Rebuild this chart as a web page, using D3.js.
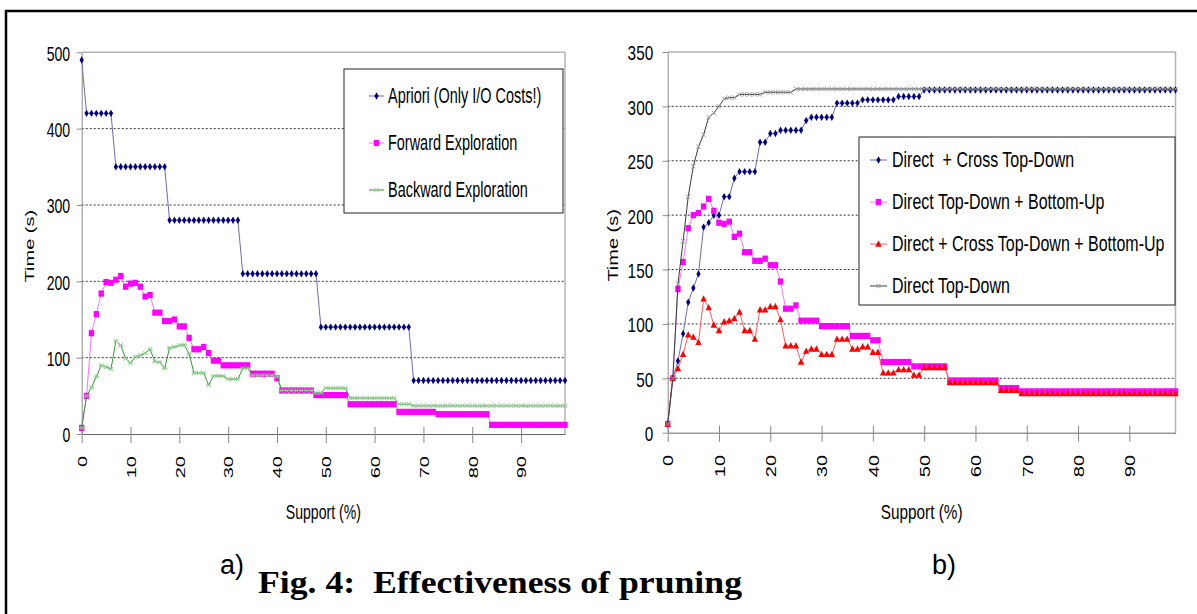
<!DOCTYPE html>
<html>
<head>
<meta charset="utf-8">
<script src="https://cdnjs.cloudflare.com/ajax/libs/d3/7.8.5/d3.min.js"></script>
<style>
  html, body { margin: 0; padding: 0; background: #fff; }
  svg { display: block; }
  svg text { font-family: Arial, "Liberation Sans", sans-serif; }
  svg text.caption { font-family: "Times New Roman", "Liberation Serif", "DejaVu Serif Condensed", serif; }
</style>
</head>
<body>
<svg id="fig" width="1197" height="614"></svg>
<script>
// support (%) categories and tick labels
var support = d3.range(0, 100);
var supportTicks = [0, 10, 20, 30, 40, 50, 60, 70, 80, 90];
var timeTicksA = [0, 100, 200, 300, 400, 500];
var timeTicksB = [0, 50, 100, 150, 200, 250, 300, 350];

// a) series
var apriori = [
  490,420,420,420,420,420,420,350,350,350,
  350,350,350,350,350,350,350,350,280,280,
  280,280,280,280,280,280,280,280,280,280,
  280,280,280,210,210,210,210,210,210,210,
  210,210,210,210,210,210,210,210,210,140,
  140,140,140,140,140,140,140,140,140,140,
  140,140,140,140,140,140,140,140,70,70,
  70,70,70,70,70,70,70,70,70,70,
  70,70,70,70,70,70,70,70,70,70,
  70,70,70,70,70,70,70,70,70,70
];
var forward = [
  8,50,132,157,184,199,198,202,207,193,
  197,198,193,180,182,159,159,148,148,150,
  141,141,126,111,111,114,106,96,96,90,
  90,90,90,90,90,79,79,79,79,79,
  73,57,57,57,57,57,57,57,51,51,
  51,51,51,51,51,39,39,39,39,39,
  39,39,39,39,39,29,29,29,29,29,
  29,29,29,26,26,26,26,26,26,26,
  26,26,26,26,12,12,12,12,12,12,
  12,12,12,12,12,12,12,12,12,12
];
var backward = [
  8,50,61,75,90,88,85,122,116,99,
  93,101,103,106,111,95,94,86,113,114,
  116,117,105,80,80,80,64,76,76,76,
  72,72,72,86,86,77,77,77,77,77,
  75,57,57,57,57,57,57,57,54,54,
  60,60,60,60,60,47,47,47,47,47,
  47,47,47,47,47,39,39,39,37,37,
  37,37,37,37,37,37,37,37,37,37,
  37,37,37,37,37,37,37,37,37,37,
  37,37,37,37,37,37,37,37,37,37
];

// b) series
var crossTopDown = [
  8,50,66,91,120,133,146,189,193,200,
  200,217,217,234,240,240,240,240,267,267,
  275,275,278,278,278,278,278,287,290,290,
  290,290,290,303,303,303,303,303,306,306,
  306,306,306,306,306,309,309,309,309,309,
  315,315,315,315,315,315,315,315,315,315,
  315,315,315,315,315,315,315,315,315,315,
  315,315,315,315,315,315,315,315,315,315,
  315,315,315,315,315,315,315,315,315,315,
  315,315,315,315,315,315,315,315,315,315
];
var bottomUp = [
  8,50,132,157,188,200,202,208,215,204,
  193,192,194,180,183,166,166,158,158,160,
  154,154,139,114,114,117,103,103,103,103,
  98,98,98,98,98,98,89,89,89,89,
  85,85,65,65,65,65,65,65,61,61,
  61,61,61,61,61,48,48,48,48,48,
  48,48,48,48,48,41,41,41,41,38,
  38,38,38,38,38,38,38,38,38,38,
  38,38,38,38,38,38,38,38,38,38,
  38,38,38,38,38,38,38,38,38,38
];
var allThree = [
  8,50,59,72,90,88,83,123,115,99,
  94,102,103,105,111,94,94,86,113,113,
  116,116,104,80,80,80,65,75,77,77,
  72,72,72,86,86,86,77,77,79,79,
  74,74,55,55,55,58,58,58,53,53,
  60,60,60,60,60,46,46,46,46,46,
  46,46,46,46,46,39,39,39,39,36,
  36,36,36,36,36,36,36,36,36,36,
  36,36,36,36,36,36,36,36,36,36,
  36,36,36,36,36,36,36,36,36,36
];
var topDown = [
  8,50,137,176,217,245,263,274,290,294,
  300,307,308,308,311,311,311,311,311,313,
  313,313,313,313,313,316,316,316,316,316,
  316,316,316,316,316,316,316,316,316,316,
  316,316,316,316,316,316,316,316,316,316,
  316,316,316,316,316,316,316,316,316,316,
  316,316,316,316,316,316,316,316,316,316,
  316,316,316,316,316,316,316,316,316,316,
  316,316,316,316,316,316,316,316,316,316,
  316,316,316,316,316,316,316,316,316,316
];

var svg = d3.select('#fig');

function markerPath(type) {
  switch (type) {
    case 'diamond': return d3.symbol(d3.symbolDiamond, 16)();
    case 'square': return 'M-2.7,-3.1H2.7V3.1H-2.7Z';
    case 'triangle': return 'M0,-3.7L3.2,2.7H-3.2Z';
    case 'cross': return 'M-2,-2.2L2,2.2M-2,2.2L2,-2.2';
    case 'star': return 'M-2,-2.2L2,2.2M-2,2.2L2,-2.2M-2.6,0H2.6';
  }
}

function drawMarkers(g, pts, s) {
  var filled = (s.marker != 'cross' && s.marker != 'star');
  g.selectAll(null).data(pts).enter().append('path')
    .attr('transform', function(p) { return 'translate(' + p[0] + ',' + p[1] + ')'; })
    .attr('d', markerPath(s.marker))
    .attr('fill', filled ? s.color : 'none')
    .attr('stroke', filled ? 'none' : s.color)
    .attr('stroke-width', 1);
}

// text squeezed horizontally, like the scanned figure
function label(g, x, y, str, size, sx, anchor, rotate) {
  return g.append('text')
    .attr('transform', 'translate(' + x + ',' + y + ') scale(' + sx + ',1)' + (rotate ? ' rotate(-90)' : ''))
    .attr('text-anchor', anchor)
    .attr('font-size', size)
    .attr('fill', '#000')
    .style('white-space', 'pre')
    .text(str);
}

function drawChart(cfg) {
  var g = svg.append('g');
  var x = d3.scaleLinear().domain([0, 99]).range([cfg.left, cfg.right]);
  var y = d3.scaleLinear().domain([0, cfg.max]).range([cfg.bottom, cfg.top]);

  // dotted grid
  g.selectAll(null).data(cfg.yTicks.filter(function(v) { return v > 0 && v < cfg.max; }))
    .enter().append('line')
    .attr('x1', cfg.left).attr('x2', cfg.right)
    .attr('y1', function(d) { return y(d); }).attr('y2', function(d) { return y(d); })
    .attr('stroke', '#333').attr('stroke-dasharray', '2,2').attr('stroke-width', 1);

  // plot frame top & right
  g.append('path')
    .attr('d', 'M' + cfg.left + ',' + y(cfg.max) + 'H' + cfg.right + 'V' + cfg.bottom)
    .attr('fill', 'none').attr('stroke', '#b4b4b4').attr('stroke-width', 1.5);

  // y axis
  var ya = g.append('g').attr('transform', 'translate(' + cfg.left + ',0)')
    .call(d3.axisLeft(y).tickValues(cfg.yTicks).tickSize(5).tickSizeOuter(0));
  ya.attr('font-family', null);
  ya.select('.domain').attr('stroke', '#8a8a8a');
  ya.selectAll('.tick line').attr('stroke', '#8a8a8a');
  ya.selectAll('.tick text')
    .attr('x', 0).attr('dy', '0.38em')
    .attr('transform', 'translate(' + (-cfg.labelGap) + ',0) scale(' + cfg.sx + ',1)')
    .attr('font-size', 21).attr('fill', '#000');

  // x axis
  var xa = g.append('g').attr('transform', 'translate(0,' + cfg.bottom + ')')
    .call(d3.axisBottom(x).tickValues(supportTicks).tickSize(9).tickSizeOuter(0));
  xa.attr('font-family', null);
  xa.select('.domain').attr('stroke', '#666');
  xa.selectAll('.tick line').attr('y1', -7).attr('stroke', '#888');
  xa.selectAll('.tick text')
    .attr('x', 0).attr('y', 0).attr('dy', '0.36em')
    .attr('text-anchor', 'end')
    .attr('transform', 'translate(0,' + (cfg.tickLabelTop - cfg.bottom) + ') scale(' + cfg.sx + ',1) rotate(-90)')
    .attr('font-size', 20).attr('fill', '#000');

  // axis titles
  label(g, cfg.titleX, (cfg.top + cfg.bottom) / 2 + 3, 'Time (s)', 20, cfg.sx, 'middle', true);
  label(g, (cfg.left + cfg.right) / 2, 519, 'Support (%)', 21, cfg.sx, 'middle', false);

  // series
  var line = d3.line().x(function(d, i) { return x(support[i]); }).y(function(d) { return y(d); });
  cfg.series.forEach(function(s) {
    var sg = g.append('g');
    sg.append('path').attr('d', line(s.values))
      .attr('fill', 'none').attr('stroke', s.line).attr('stroke-width', 1);
    drawMarkers(sg, s.values.map(function(v, i) { return [x(support[i]), y(v)]; }), s);
  });

  // legend
  var L = cfg.legend;
  var lg = g.append('g');
  lg.append('rect').attr('x', L.x).attr('y', L.y).attr('width', L.w).attr('height', L.h)
    .attr('fill', '#fff').attr('stroke', '#222').attr('stroke-width', 1);
  cfg.series.forEach(function(s, i) {
    var ry = L.rows[i];
    lg.append('line').attr('x1', L.sym[0]).attr('x2', L.sym[1]).attr('y1', ry).attr('y2', ry)
      .attr('stroke', s.line).attr('stroke-width', 1);
    drawMarkers(lg, [[(L.sym[0] + L.sym[1]) / 2, ry]], s);
    label(lg, L.textX, ry + 6.5, s.name, 22, L.sx, 'start', false);
  });
}

drawChart({
  left: 81.7, right: 565, top: 52.3, bottom: 434, max: 500,
  yTicks: timeTicksA, sx: 0.67, labelGap: 11.5, tickLabelTop: 456, titleX: 34,
  series: [
    { name: 'Apriori (Only I/O Costs!)', values: apriori, marker: 'diamond', color: '#000080', line: '#6b6bb5' },
    { name: 'Forward Exploration', values: forward, marker: 'square', color: '#ff00ff', line: '#ff70ff' },
    { name: 'Backward Exploration', values: backward, marker: 'star', color: '#8ccf8c', line: '#2f9a2f' }
  ],
  legend: { x: 344, y: 69, w: 219, h: 144, rows: [96, 143, 190], sym: [369, 384], textX: 388, sx: 0.657 }
});

drawChart({
  left: 667.7, right: 1175.5, top: 52, bottom: 432.7, max: 350,
  yTicks: timeTicksB, sx: 0.73, labelGap: 14.5, tickLabelTop: 455, titleX: 618,
  series: [
    { name: 'Direct  + Cross Top-Down', values: crossTopDown, marker: 'diamond', color: '#000080', line: '#6b6bb5' },
    { name: 'Direct Top-Down + Bottom-Up', values: bottomUp, marker: 'square', color: '#ff00ff', line: '#ff70ff' },
    { name: 'Direct + Cross Top-Down + Bottom-Up', values: allThree, marker: 'triangle', color: '#ff0000', line: '#ff5a5a' },
    { name: 'Direct Top-Down', values: topDown, marker: 'cross', color: '#9a9a9a', line: '#3a3a3a' }
  ],
  legend: { x: 859, y: 137, w: 316, h: 168, rows: [160, 202, 244, 286], sym: [870, 887], textX: 892, sx: 0.727 }
});

// sub-figure labels and caption
svg.append('text').attr('x', 220).attr('y', 574)
  .attr('font-size', 27).text('a)');
svg.append('text').attr('x', 932).attr('y', 574)
  .attr('font-size', 27).text('b)');
svg.append('text').attr('class', 'caption').attr('x', 258).attr('y', 593)
  .attr('font-size', 31).attr('font-weight', 'bold')
  .attr('textLength', 484).attr('lengthAdjust', 'spacingAndGlyphs')
  .style('white-space', 'pre')
  .text('Fig. 4:  Effectiveness of pruning');

// outer frame
svg.append('path').attr('d', 'M6,614V11H1197')
  .attr('fill', 'none').attr('stroke', '#000').attr('stroke-width', 2.5);
</script>
</body>
</html>
